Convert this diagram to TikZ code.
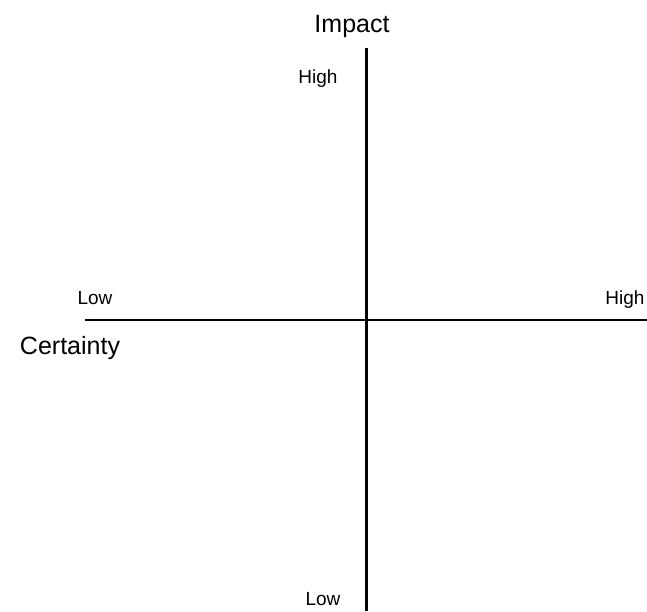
\documentclass[tikz,border=0pt]{standalone}
\usepackage{fontspec}
\setmainfont{Liberation Sans}
\usetikzlibrary{positioning}

\begin{document}
\begin{tikzpicture}[x=1pt,y=1pt]

\tikzset{axis/.style = {line width=2.8pt}}
\tikzset{title/.style = {font=\fontsize{25}{25}\selectfont, anchor=base, inner sep=0pt}}
\tikzset{level/.style = {font=\fontsize{19}{19}\selectfont, anchor=base, inner sep=0pt}}
\useasboundingbox (0,0) rectangle (647,611);
%axis ends
\coordinate (top) at (366.5,563);
\coordinate (bottom) at (366.5,0);
\coordinate (left) at (85,291);
\coordinate (right) at (647,291);
%labels
\node[title] (impact) at (352,578) {Impact};
\node[title] (certainty) at (70,257) {Certainty};
\node[level] (ihigh) at (318,527) {High};
\node[level] (ilow) at (323,6) {Low};
\node[level] (clow) at (95,306) {Low};
\node[level] (chigh) at (625,306) {High};
%axes
\draw[axis] (left) -- (right);
\draw[axis] (top) -- (bottom);

\end{tikzpicture}
\end{document}
